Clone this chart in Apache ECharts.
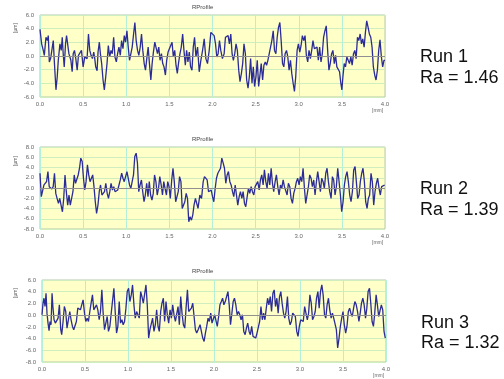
<!DOCTYPE html>
<html><head><meta charset="utf-8">
<script src="https://cdn.jsdelivr.net/npm/echarts@6/dist/echarts.min.js"></script>
<style>html,body{margin:0;padding:0;background:#fff}#c{width:504px;height:379px}</style>
</head><body><div id="c"></div>
<script>
var xTicks = ['0.0','0.5','1.0','1.5','2.0','2.5','3.0','3.5','4.0'];
var runLabels = ['Run 1','Run 2','Run 3'];
var raValues = ['Ra = 1.46','Ra = 1.39','Ra = 1.32'];
var yRanges = [[-6,6],[-8,8],[-8,6]];

var run1X = [0.000,0.019,0.038,0.050,0.069,0.085,0.096,0.108,0.123,0.135,0.154,0.165,0.185,0.200,0.212,0.231,0.246,0.258,0.269,0.281,0.296,0.308,0.319,0.335,0.346,0.358,0.373,0.385,0.400,0.415,0.431,0.446,0.462,0.481,0.500,0.519,0.546,0.562,0.577,0.592,0.608,0.623,0.635,0.646,0.662,0.673,0.688,0.700,0.715,0.731,0.746,0.762,0.777,0.792,0.808,0.823,0.838,0.854,0.869,0.885,0.900,0.915,0.931,0.946,0.962,0.977,0.992,1.008,1.023,1.038,1.054,1.069,1.085,1.100,1.115,1.131,1.146,1.162,1.177,1.192,1.208,1.223,1.238,1.254,1.269,1.285,1.300,1.315,1.331,1.346,1.362,1.377,1.392,1.408,1.423,1.438,1.454,1.469,1.485,1.500,1.515,1.531,1.546,1.562,1.577,1.592,1.608,1.623,1.638,1.654,1.669,1.685,1.700,1.715,1.731,1.746,1.762,1.777,1.792,1.808,
1.827,1.846,1.865,1.885,1.904,1.923,1.942,1.962,1.981,2.000,2.019,2.035,2.050,2.065,2.081,2.096,2.115,2.135,2.150,2.165,2.181,2.196,2.212,2.227,2.242,2.258,2.273,2.288,2.304,2.319,2.335,2.350,2.365,2.381,2.396,2.412,2.427,2.442,2.458,2.473,2.488,2.504,2.519,2.535,2.550,2.565,2.581,2.596,2.612,2.627,2.642,2.658,2.673,2.688,2.704,2.719,2.735,2.750,2.765,2.781,2.796,2.812,2.827,2.842,2.858,2.873,2.888,2.904,2.919,2.935,2.950,2.965,2.981,2.996,3.012,3.027,3.042,3.058,3.073,3.088,3.104,3.119,3.135,3.150,3.165,3.181,3.196,3.212,3.227,3.242,3.258,3.273,3.288,3.304,3.319,3.335,3.350,3.365,3.381,3.396,3.412,3.427,3.442,3.458,3.473,3.488,3.500,3.512,3.527,3.542,3.558,3.573,3.588,3.604,3.619,3.635,3.650,3.665,3.681,3.696,3.712,3.727,3.742,3.758,3.773,3.788,3.804,3.819,3.835,3.850,3.865,3.881,3.896,3.912,3.927,3.942,3.958,3.973,3.988,4.000];
var run1Y = [3.9,1.78,0.82,0.10,2.74,2.26,2.98,-0.87,-0.38,-0.63,2.26,-0.53,-4.95,-3.03,-0.63,1.78,0.82,2.74,0.34,-1.59,1.78,2.98,3.22,0.34,0.58,-0.63,-2.31,0.34,0.82,-0.38,-2.07,0.10,-0.14,0.82,-1.59,-0.14,-0.38,3.22,0.82,0.10,-0.38,0.58,-0.38,-1.59,-2.16,0.58,2.02,0.34,-1.11,-3.51,-4.95,-3.03,-1.11,1.54,-0.14,0.82,0.34,2.74,-0.14,-0.87,0.34,1.30,0.10,2.26,1.06,2.98,2.02,3.70,1.30,-0.63,-0.87,1.30,3.22,4.90,2.26,0.82,0.10,1.30,3.22,0.82,-1.11,-2.07,-0.38,1.30,-1.11,-3.51,-1.11,0.58,2.02,1.78,0.34,1.30,-0.63,0.34,-1.11,-1.59,-2.79,-0.63,0.58,1.06,1.30,2.02,-0.14,0.82,-1.35,-2.55,-0.87,0.34,1.30,3.22,0.82,-1.35,0.82,-0.87,0.58,-1.59,-2.07,1.30,2.74,-0.14,
1.30,-2.31,-0.63,0.82,2.50,-0.38,-1.11,0.82,3.46,3.22,2.98,1.78,-0.14,0.34,2.26,0.82,-0.38,0.34,2.74,2.50,2.98,1.78,3.22,0.34,-0.63,0.34,1.78,0.82,-2.07,-3.75,-2.55,-1.11,1.78,0.34,-3.51,-4.71,-3.03,-0.38,-3.99,-1.59,-4.47,-3.03,-0.63,-4.47,-2.79,-1.11,-3.51,-1.35,-0.87,-1.35,-0.63,-0.38,1.30,2.26,3.70,0.82,0.34,2.74,4.18,4.90,2.26,-1.11,-1.59,0.34,0.82,-0.14,-2.07,-0.63,-2.55,-3.99,-5.19,-3.03,0.82,1.78,0.58,1.54,2.98,2.26,2.98,0.10,-0.87,0.82,-0.38,0.82,2.26,1.06,0.82,1.30,-0.63,1.30,-0.87,0.34,2.74,3.70,4.42,0.82,-2.07,-1.11,0.34,0.82,-1.11,0.10,-1.59,-1.35,-2.31,-3.99,-4.95,-3.03,-1.11,-1.59,-0.14,-0.63,-1.11,-0.14,-1.35,0.34,0.82,-0.38,2.74,2.26,3.22,1.78,2.50,1.30,3.46,5.14,4.18,3.22,2.74,1.30,-1.59,-2.79,-3.51,-2.07,0.82,2.36,-0.14,-1.59,-0.63,-0.63];

var run2X = [0.000,0.015,0.031,0.046,0.061,0.076,0.092,0.107,0.122,0.137,0.153,0.168,0.183,0.198,0.214,0.229,0.244,0.260,0.275,0.290,0.305,0.321,0.336,0.351,0.366,0.382,0.397,0.412,0.427,0.443,0.458,0.473,0.489,0.504,0.519,0.534,0.550,0.565,0.580,0.595,0.611,0.626,0.641,0.656,0.672,0.687,0.702,0.718,0.733,0.748,0.763,0.779,0.794,0.809,0.824,0.840,0.855,0.870,0.885,0.901,0.916,0.931,0.947,0.962,0.977,0.992,1.008,1.023,1.038,1.053,1.069,1.084,1.099,1.115,1.130,1.145,1.160,1.176,1.191,1.206,1.221,1.237,1.252,1.267,1.282,1.298,1.313,1.328,1.344,1.359,1.374,1.389,1.405,1.420,1.435,1.450,1.466,1.481,1.496,1.511,1.527,1.542,1.557,1.573,1.588,1.603,1.618,1.634,1.649,1.664,1.679,1.695,1.710,1.725,1.740,1.756,1.771,1.786,1.802,1.817,1.832,
1.853,1.873,1.892,1.907,1.923,1.938,1.954,1.969,1.985,2.000,2.015,2.031,2.046,2.062,2.077,2.093,2.108,2.124,2.139,2.154,2.170,2.185,2.201,2.216,2.232,2.247,2.263,2.278,2.293,2.309,2.324,2.340,2.355,2.371,2.386,2.402,2.417,2.432,2.448,2.463,2.479,2.494,2.510,2.525,2.541,2.556,2.571,2.587,2.602,2.618,2.633,2.649,2.664,2.680,2.695,2.710,2.726,2.741,2.757,2.772,2.788,2.803,2.819,2.834,2.849,2.865,2.880,2.896,2.911,2.927,2.942,2.958,2.973,2.988,3.004,3.019,3.035,3.050,3.066,3.081,3.097,3.112,3.127,3.143,3.158,3.174,3.189,3.205,3.220,3.236,3.251,3.266,3.282,3.297,3.313,3.328,3.344,3.359,3.375,3.390,3.405,3.421,3.436,3.452,3.467,3.483,3.498,3.514,3.529,3.544,3.560,3.575,3.591,3.606,3.622,3.637,3.653,3.668,3.683,3.699,3.714,3.730,3.745,3.761,3.776,3.792,3.807,3.822,3.838,3.853,3.869,3.884,3.900,3.915,3.931,3.946,3.961,3.977,3.996];
var run2Y = [2.88,-1.70,-1.37,0.59,0.92,1.24,3.20,0.26,0.59,-0.20,0.26,2.88,-1.05,-2.03,-3.01,-2.03,-3.33,-4.64,-2.03,2.55,-0.72,-3.33,-1.37,-3.33,-3.66,-0.72,2.55,0.92,0.92,2.55,3.86,5.82,5.16,1.90,-0.39,1.24,4.51,2.55,1.24,0.92,2.55,0.26,-2.68,-4.97,-3.33,-0.72,0.59,-1.37,-1.70,-0.72,0.92,-1.05,-2.03,-0.72,0.92,-0.39,0.26,-0.72,-0.72,-0.39,-0.72,1.57,2.88,1.90,1.24,2.22,3.20,3.53,0.59,-0.07,0.26,2.55,6.14,6.80,4.84,-0.72,0.59,1.57,-0.72,-2.68,-1.37,0.92,-1.70,1.24,-1.37,-2.35,-1.05,2.55,1.24,-1.37,-0.07,2.22,0.59,-1.37,1.24,-0.07,-1.37,1.24,0.26,-2.03,1.57,3.86,1.24,-2.68,-2.35,-0.72,2.22,1.24,-3.99,-4.31,-2.68,-1.05,-2.03,-6.60,-5.62,-6.27,-5.29,-3.33,-2.03,-3.01,-3.99,
-1.37,-2.03,1.24,2.22,2.55,1.57,-0.72,-1.05,-0.39,-1.70,-2.68,-0.07,1.90,2.88,2.55,3.86,5.82,4.84,3.86,0.92,2.55,3.20,1.24,0.59,-0.72,-1.70,0.59,-1.37,-3.33,-1.70,-0.72,-2.03,-0.72,-3.01,-3.66,-1.70,-0.07,-1.05,0.26,-0.72,-1.37,0.26,0.59,1.24,-0.39,1.57,2.55,0.59,3.53,1.24,-0.07,2.88,0.59,3.86,0.92,-0.72,1.24,2.55,0.26,-1.37,0.59,-0.07,1.57,0.26,-0.07,-1.37,0.92,0.26,-2.03,-3.01,-1.05,-0.07,1.24,1.90,0.59,2.22,1.24,3.86,-0.07,-3.01,-2.68,0.26,2.55,1.90,0.26,1.57,-1.37,1.24,3.20,1.24,-0.72,1.90,1.24,-0.07,2.88,3.86,1.24,-0.72,-2.03,2.22,1.57,-1.37,0.26,3.86,4.18,-1.37,-4.64,-2.68,0.59,2.22,3.20,1.24,-1.37,-2.68,-0.72,3.53,4.18,1.24,-2.03,-1.37,1.24,2.88,3.86,1.24,-2.68,-3.99,-2.03,-1.37,2.88,1.24,-3.33,-0.72,0.92,1.90,-0.07,-1.37,0.26,-0.07,0.59];

var run3X = [0.000,0.012,0.023,0.035,0.047,0.058,0.070,0.082,0.093,0.105,0.117,0.128,0.140,0.155,0.171,0.187,0.202,0.218,0.229,0.245,0.260,0.276,0.291,0.307,0.323,0.338,0.354,0.369,0.385,0.400,0.416,0.431,0.447,0.462,0.478,0.494,0.509,0.525,0.540,0.556,0.571,0.587,0.602,0.618,0.634,0.649,0.665,0.680,0.696,0.711,0.727,0.742,0.758,0.773,0.789,0.805,0.820,0.836,0.851,0.867,0.882,0.898,0.913,0.929,0.944,0.960,0.976,0.991,1.007,1.022,1.038,1.053,1.069,1.084,1.100,1.115,1.131,1.147,1.162,1.178,1.193,1.209,1.224,1.240,1.255,1.271,1.286,1.302,1.318,1.333,1.349,1.364,1.380,1.395,1.411,1.426,1.442,1.457,1.473,1.489,1.504,1.520,1.535,1.551,1.566,1.582,1.597,1.613,1.628,1.644,1.660,1.675,1.691,1.706,1.722,1.737,1.753,1.768,1.784,1.799,1.815,1.831,
1.838,1.854,1.869,1.885,1.900,1.915,1.931,1.946,1.962,1.977,1.992,2.008,2.023,2.038,2.054,2.069,2.085,2.100,2.115,2.131,2.146,2.162,2.177,2.192,2.208,2.223,2.238,2.254,2.269,2.285,2.300,2.315,2.331,2.346,2.362,2.377,2.392,2.408,2.423,2.438,2.454,2.469,2.485,2.500,2.515,2.531,2.546,2.562,2.577,2.592,2.608,2.623,2.638,2.654,2.669,2.685,2.700,2.715,2.731,2.746,2.762,2.777,2.792,2.808,2.823,2.838,2.854,2.869,2.885,2.900,2.915,2.931,2.946,2.962,2.977,2.992,3.008,3.023,3.038,3.054,3.069,3.085,3.100,3.115,3.131,3.146,3.162,3.177,3.192,3.208,3.223,3.238,3.254,3.269,3.285,3.300,3.315,3.331,3.346,3.362,3.377,3.392,3.408,3.423,3.438,3.454,3.469,3.485,3.500,3.515,3.531,3.546,3.562,3.577,3.592,3.608,3.623,3.638,3.654,3.669,3.685,3.700,3.715,3.731,3.746,3.762,3.777,3.792,3.808,3.823,3.838,3.854,3.869,3.885,3.900,3.915,3.931,3.946,3.962,3.977,3.992];
var run3Y = [0.06,2.04,2.89,1.47,3.74,0.34,-1.36,-2.66,-1.08,-1.64,3.74,1.19,-0.79,-1.36,-1.08,-0.51,1.76,-2.49,-3.34,-1.08,1.47,0.62,-2.21,-2.49,0.62,-0.79,-1.93,-2.49,-2.78,-1.08,1.19,1.47,0.91,1.76,2.61,0.34,-1.08,-0.51,-1.08,0.62,2.04,3.46,0.91,1.19,1.76,0.91,-0.79,0.62,4.31,0.34,-2.49,-2.21,-0.23,-2.78,-1.93,0.34,0.34,4.59,0.62,-3.06,-1.93,2.32,-1.36,-0.79,-1.64,-1.08,1.19,4.02,4.59,2.32,3.46,5.16,1.76,-0.51,0.62,0.62,-0.51,4.02,3.17,2.04,2.32,5.16,1.76,-3.91,-2.49,-2.78,-0.51,-2.78,-1.64,0.91,-1.93,-2.78,0.62,2.04,2.89,-1.08,2.32,0.06,-1.36,0.91,-0.51,1.76,0.06,-1.08,-0.79,1.47,-1.64,3.17,0.34,-1.64,-2.21,1.19,4.31,0.62,0.34,1.19,2.04,2.32,-2.49,-3.06,-2.49,-2.78,
-1.64,-1.36,-3.91,-4.48,-3.06,-1.93,-0.51,-1.08,0.34,-1.36,-1.08,0.06,0.34,-1.93,-0.23,1.76,2.32,2.89,1.76,2.32,3.17,4.02,1.76,-1.64,0.34,2.32,2.89,1.76,0.06,0.62,0.06,-0.79,0.06,-2.78,-3.34,-2.21,-1.36,-2.78,-3.34,-1.93,-3.63,-3.34,-3.91,-3.06,-2.78,-1.08,1.47,-0.79,0.34,-0.79,1.19,2.89,1.76,3.17,0.62,3.74,4.31,1.47,2.89,0.34,3.17,4.02,2.04,0.34,-0.51,0.62,3.17,-0.51,-1.64,-1.08,0.34,0.62,-0.23,-2.78,-3.63,-1.93,-0.79,-0.51,-1.08,1.47,1.76,-0.79,0.34,3.46,2.04,-0.79,-0.23,0.62,2.89,4.02,1.19,4.02,5.16,3.46,0.06,-0.51,1.76,2.89,0.91,-0.51,0.34,-0.51,-0.79,-2.49,-5.61,-3.91,-1.93,-0.51,0.62,-1.64,-3.06,-1.93,0.62,1.19,0.34,-0.23,1.19,2.32,1.76,0.62,-1.08,0.34,2.04,2.89,1.76,-0.51,1.19,4.02,4.59,2.04,-1.08,-1.93,0.34,3.46,1.76,-0.23,-0.23,1.76,0.91,-2.78,-3.91];

var runsX = [run1X, run2X, run3X];
var runsY = [run1Y, run2Y, run3Y];

var grids = [
  {left: 40, top: 15, width: 345, height: 82},
  {left: 40, top: 147, width: 345, height: 82},
  {left: 42, top: 280, width: 344, height: 82}
];
var lblFont = {fontFamily: 'Liberation Sans, Arial, sans-serif', fontSize: 6, color: '#666'};

var option = {
  animation: false,
  backgroundColor: '#ffffff',
  grid: grids.map(function(g){ return Object.assign({show: true, backgroundColor: '#ffffc8', borderColor: '#b8c8b0', borderWidth: 1}, g); }),
  xAxis: [], yAxis: [], series: [], graphic: []
};

for (var i = 0; i < 3; i++) {
  option.xAxis.push({
    type: 'value', gridIndex: i, min: 0, max: 4, interval: 0.5,
    axisLine: {show: false}, axisTick: {show: false},
    axisLabel: Object.assign({margin: 4, formatter: function(v){ var k = Math.round(v*2); return xTicks[k] !== undefined ? xTicks[k] : ''; }}, lblFont),
    splitLine: {show: true, lineStyle: {color: '#b4f0d8', width: 1}}
  });
  option.yAxis.push({
    type: 'value', gridIndex: i, min: yRanges[i][0], max: yRanges[i][1], interval: 2,
    axisLine: {show: false}, axisTick: {show: false},
    axisLabel: Object.assign({margin: 6, formatter: function(v){ return v.toFixed(1); }}, lblFont),
    splitLine: {show: true, lineStyle: {color: '#cfeec0', width: 1}}
  });
  var pts = runsX[i].map(function(x, j){ return [x, runsY[i][j]]; });
  option.series.push({
    type: 'line', xAxisIndex: i, yAxisIndex: i, data: pts,
    showSymbol: false, symbol: 'none',
    lineStyle: {color: '#2c2c98', width: 1.3},
    markLine: {silent: true, symbol: 'none', label: {show: false},
      lineStyle: {color: '#909090', width: 1, type: 'solid'}, data: [{yAxis: 0}]}
  });
  var g = grids[i];
  option.graphic.push({type: 'text', left: 192, top: [4, 136, 268][i],
    style: {text: 'RProfile', font: '6px Liberation Sans, Arial, sans-serif', fill: '#444'}});
  option.graphic.push({type: 'text', left: g.left + g.width - 13, top: g.top + g.height + 11,
    style: {text: '[mm]', font: '5px Liberation Sans, Arial, sans-serif', fill: '#666'}});
  option.graphic.push({type: 'text', x: 16, y: g.top + [13, 14, 13][i], rotation: Math.PI/2,
    style: {text: '[µm]', font: '5px Liberation Sans, Arial, sans-serif', fill: '#666', align: 'center', verticalAlign: 'middle'}});
  option.graphic.push({type: 'text', left: [420, 420, 421][i], top: [48, 180, 314][i],
    style: {text: runLabels[i], font: '18px Liberation Sans, Arial, sans-serif', fill: '#111'}});
  option.graphic.push({type: 'text', left: [420, 420, 421][i], top: [69, 201, 334][i],
    style: {text: raValues[i], font: '18px Liberation Sans, Arial, sans-serif', fill: '#111'}});
}

var chart = echarts.init(document.getElementById('c'), null, {renderer: 'canvas'});
chart.setOption(option);
</script>
</body></html>
